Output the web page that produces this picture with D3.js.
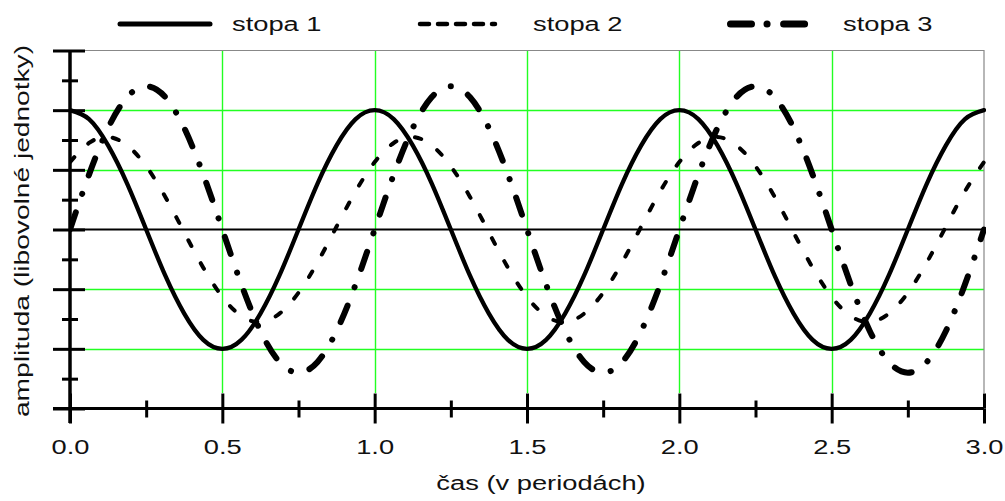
<!DOCTYPE html>
<html lang="cs">
<head>
  <meta charset="UTF-8">
  <title>stopy</title>
  <script src="https://d3js.org/d3.v7.min.js"></script>
  <style>
    body { margin: 0; background: #fff; }
    text { font-family: "Liberation Sans", Arial, sans-serif; fill: #111; }
  </style>
</head>
<body>
<script>
  const WIDTH = 1005;
  const HEIGHT = 501;

  // sample times (periods) and amplitudes
  const times = [0, 0.0625, 0.125, 0.1875, 0.25, 0.3125, 0.375, 0.4375, 0.5, 0.5625, 0.625, 0.6875, 0.75, 0.8125, 0.875, 0.9375,
    1, 1.0625, 1.125, 1.1875, 1.25, 1.3125, 1.375, 1.4375, 1.5, 1.5625, 1.625, 1.6875, 1.75, 1.8125, 1.875, 1.9375,
    2, 2.0625, 2.125, 2.1875, 2.25, 2.3125, 2.375, 2.4375, 2.5, 2.5625, 2.625, 2.6875, 2.75, 2.8125, 2.875, 2.9375, 3];

  const stopa1 = [2.00, 1.85, 1.41, 0.77, 0.00, -0.77, -1.41, -1.85, -2.00, -1.85, -1.41, -0.77, 0.00, 0.77, 1.41, 1.85,
    2.00, 1.85, 1.41, 0.77, 0.00, -0.77, -1.41, -1.85, -2.00, -1.85, -1.41, -0.77, 0.00, 0.77, 1.41, 1.85,
    2.00, 1.85, 1.41, 0.77, 0.00, -0.77, -1.41, -1.85, -2.00, -1.85, -1.41, -0.77, 0.00, 0.77, 1.41, 1.85, 2.00];

  const stopa2 = [1.13, 1.45, 1.55, 1.41, 1.06, 0.55, -0.05, -0.64, -1.13, -1.45, -1.55, -1.41, -1.06, -0.55, 0.05, 0.64,
    1.13, 1.45, 1.55, 1.41, 1.06, 0.55, -0.05, -0.64, -1.13, -1.45, -1.55, -1.41, -1.06, -0.55, 0.05, 0.64,
    1.13, 1.45, 1.55, 1.41, 1.06, 0.55, -0.05, -0.64, -1.13, -1.45, -1.55, -1.41, -1.06, -0.55, 0.05, 0.64, 1.13];

  const stopa3 = [0.00, 0.92, 1.70, 2.22, 2.40, 2.22, 1.70, 0.92, 0.00, -0.92, -1.70, -2.22, -2.40, -2.22, -1.70, -0.92,
    0.00, 0.92, 1.70, 2.22, 2.40, 2.22, 1.70, 0.92, 0.00, -0.92, -1.70, -2.22, -2.40, -2.22, -1.70, -0.92,
    0.00, 0.92, 1.70, 2.22, 2.40, 2.22, 1.70, 0.92, 0.00, -0.92, -1.70, -2.22, -2.40, -2.22, -1.70, -0.92, 0.00];

  const seriesNames = ['stopa 1', 'stopa 2', 'stopa 3'];
  const xMajorTicks = [0, 0.5, 1, 1.5, 2, 2.5, 3];
  const xMinorTicks = [0.25, 0.75, 1.25, 1.75, 2.25, 2.75];
  const yMajorTicks = [-3, -2, -1, 0, 1, 2, 3];
  const yMinorTicks = [-2.5, -1.5, -0.5, 0.5, 1.5, 2.5];
  const xTitle = 'čas (v periodách)';
  const yTitle = 'amplituda (libovolné jednotky)';

  const FONT = 21;
  const STRETCH = 1.3; // text in the original is drawn wide

  const x = d3.scaleLinear().domain([0, 3]).range([70, 984]);
  const y = d3.scaleLinear().domain([-3, 3]).range([408.5, 50.5]);

  const svg = d3.select('body').append('svg')
    .attr('width', WIDTH)
    .attr('height', HEIGHT);

  // grid
  svg.append('g')
    .selectAll('line')
    .data([-2, -1, 1, 2])
    .enter().append('line')
    .attr('x1', 85).attr('x2', x(3))
    .attr('y1', d => Math.round(y(d)) + 0.5).attr('y2', d => Math.round(y(d)) + 0.5)
    .attr('stroke', '#22ff22').attr('stroke-width', 1.4);

  svg.append('g')
    .selectAll('line')
    .data([0.5, 1, 1.5, 2, 2.5])
    .enter().append('line')
    .attr('x1', d => Math.round(x(d)) + 0.5).attr('x2', d => Math.round(x(d)) + 0.5)
    .attr('y1', y(3)).attr('y2', 393)
    .attr('stroke', '#22ff22').attr('stroke-width', 1.4);

  // top and right frame
  svg.append('path')
    .attr('d', `M${x(0)},${y(3)}H${x(3)}V393`)
    .attr('fill', 'none')
    .attr('stroke', '#888').attr('stroke-width', 1.2);

  // zero line
  svg.append('line')
    .attr('x1', x(0)).attr('x2', x(3))
    .attr('y1', y(0)).attr('y2', y(0))
    .attr('stroke', '#000').attr('stroke-width', 2);

  // curves
  svg.append('clipPath').attr('id', 'plot')
    .append('rect')
    .attr('x', x(0)).attr('y', y(3) - 4)
    .attr('width', x(3) - x(0) + 2).attr('height', y(-3) - y(3) + 4);

  const line = d3.line()
    .x((d, i) => x(times[i]))
    .y(d => y(d))
    .curve(d3.curveNatural);

  const curves = svg.append('g').attr('clip-path', 'url(#plot)')
    .attr('fill', 'none').attr('stroke', '#000').attr('stroke-linecap', 'round');

  curves.append('path').datum(stopa3)
    .attr('d', line)
    .attr('stroke-width', 6)
    .attr('stroke-dasharray', '18,19.5,0.1,19.5');

  curves.append('path').datum(stopa2)
    .attr('d', line)
    .attr('stroke-width', 4)
    .attr('stroke-dasharray', '6.5,19.5');

  curves.append('path').datum(stopa1)
    .attr('d', line)
    .attr('stroke-width', 4.3);

  // y axis: ticks on both sides of the line
  const yAxisG = svg.append('g').attr('transform', `translate(${x(0)},0)`);
  yAxisG.append('g')
    .call(d3.axisLeft(y).tickValues(yMajorTicks).tickSize(17).tickFormat(''));
  yAxisG.append('g')
    .call(d3.axisRight(y).tickValues(yMajorTicks).tickSize(15).tickFormat(''));
  yAxisG.append('g')
    .call(d3.axisLeft(y).tickValues(yMinorTicks).tickSize(8).tickFormat(''));
  yAxisG.append('g')
    .call(d3.axisRight(y).tickValues(yMinorTicks).tickSize(8).tickFormat(''));
  yAxisG.selectAll('.domain').remove();
  yAxisG.selectAll('line').attr('stroke', '#000').attr('stroke-width', 3);
  yAxisG.append('line')
    .attr('x1', 0).attr('x2', 0)
    .attr('y1', y(3)).attr('y2', 423)
    .attr('stroke', '#000').attr('stroke-width', 3.5);

  // x axis
  const xAxisG = svg.append('g').attr('transform', `translate(0,${y(-3)})`);
  xAxisG.append('g')
    .call(d3.axisTop(x).tickValues(xMajorTicks).tickSize(15).tickFormat(''));
  xAxisG.append('g')
    .call(d3.axisBottom(x).tickValues(xMajorTicks).tickSize(15).tickFormat(d3.format('.1f')));
  xAxisG.append('g')
    .call(d3.axisTop(x).tickValues(xMinorTicks).tickSize(8).tickFormat(''));
  xAxisG.append('g')
    .call(d3.axisBottom(x).tickValues(xMinorTicks).tickSize(9).tickFormat(''));
  xAxisG.selectAll('.domain').remove();
  xAxisG.selectAll('line').attr('stroke', '#000').attr('stroke-width', 3);
  xAxisG.append('line')
    .attr('x1', 53).attr('x2', x(3))
    .attr('y1', 0).attr('y2', 0)
    .attr('stroke', '#000').attr('stroke-width', 3);
  xAxisG.selectAll('text')
    .attr('y', 46).attr('dy', 0)
    .attr('font-size', FONT)
    .attr('font-family', '"Liberation Sans", Arial, sans-serif')
    .attr('fill', '#111')
    .attr('transform', `scale(${STRETCH},1)`);

  // axis titles
  svg.append('text')
    .attr('transform', `translate(541,490) scale(${STRETCH},1)`)
    .attr('text-anchor', 'middle')
    .attr('font-size', FONT)
    .text(xTitle);

  svg.append('text')
    .attr('transform', `translate(29,231) rotate(-90) scale(1.34,1)`)
    .attr('text-anchor', 'middle')
    .attr('font-size', FONT)
    .text(yTitle);

  // legend
  const legendItems = [
    { name: seriesNames[0], x1: 120, x2: 210, width: 5, dash: null, tx: 232 },
    { name: seriesNames[1], x1: 420, x2: 495, width: 4.5, dash: '9,9', tx: 533 },
    { name: seriesNames[2], x1: 730.5, x2: 820, width: 7, dash: '21,15.5,0.1,16.5', tx: 843 }
  ];

  const legend = svg.append('g');
  legendItems.forEach(item => {
    legend.append('line')
      .attr('x1', item.x1).attr('x2', item.x2)
      .attr('y1', 24).attr('y2', 24)
      .attr('stroke', '#000')
      .attr('stroke-width', item.width)
      .attr('stroke-linecap', 'round')
      .attr('stroke-dasharray', item.dash);
    legend.append('text')
      .attr('transform', `translate(${item.tx},31) scale(${STRETCH},1)`)
      .attr('font-size', FONT)
      .text(item.name);
  });
</script>
</body>
</html>
